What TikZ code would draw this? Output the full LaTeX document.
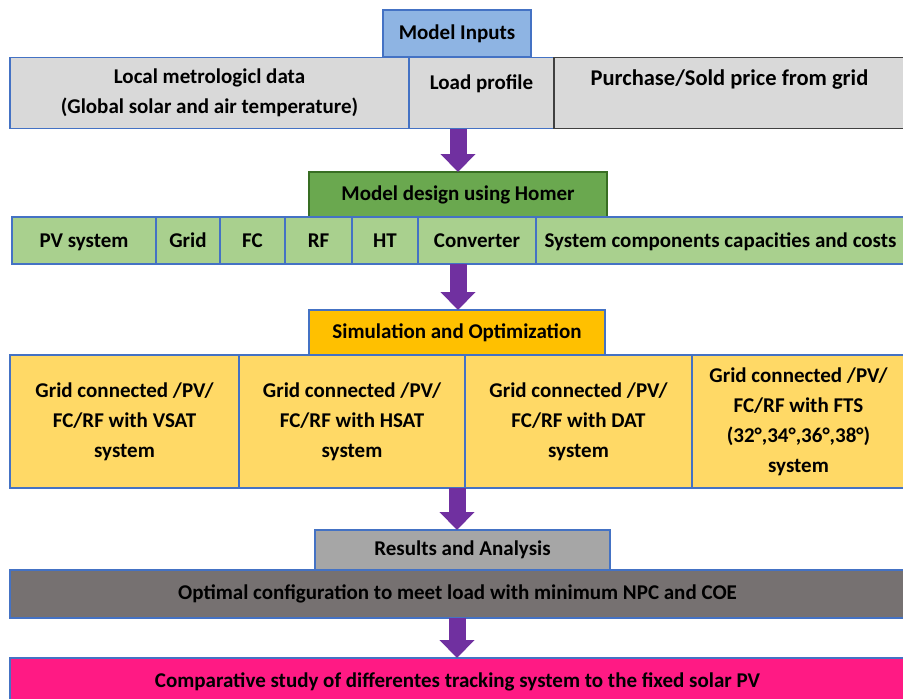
\documentclass[tikz,border=0pt]{standalone}
\usepackage{fontspec}
\setmainfont{Carlito}
\usepackage{tikz}
\usetikzlibrary{arrows.meta, positioning}
\definecolor{frameblue}{RGB}{68, 114, 196}
\definecolor{framedark}{RGB}{64, 64, 64}
\definecolor{inputblue}{RGB}{142, 180, 227}
\definecolor{inputgray}{RGB}{217, 217, 217}
\definecolor{homergreen}{RGB}{106, 168, 79}
\definecolor{homerdark}{RGB}{56, 110, 35}
\definecolor{partgreen}{RGB}{169, 208, 142}
\definecolor{simorange}{RGB}{255, 192, 0}
\definecolor{caseyellow}{RGB}{255, 217, 102}
\definecolor{resultgray}{RGB}{166, 166, 166}
\definecolor{optgray}{RGB}{118, 113, 113}
\definecolor{studypink}{RGB}{255, 26, 132}
\definecolor{flowpurple}{RGB}{112, 48, 160}
\tikzset{
  font=\bfseries\fontsize{21}{30}\selectfont,
  baseblock/.style={
    rectangle, draw=frameblue, line width=1.2pt,
    inner sep=0pt, outer sep=0pt, align=center, text=black
  },
  headblock/.style={baseblock, minimum height=45pt},
  inputblock/.style={baseblock, fill=inputgray, minimum height=71pt},
  partblock/.style={baseblock, fill=partgreen, minimum height=47pt,
    text height=17pt, text depth=3pt},
  caseblock/.style={baseblock, fill=caseyellow, minimum height=133pt},
  wideblock/.style={baseblock, minimum width=895pt, minimum height=48pt},
  flowline/.style={
    draw=flowpurple, line width=17pt, -{Triangle[width=34pt, length=18pt]}
  }
}

\begin{document}
\begin{tikzpicture}[x=1pt, y=-1pt]
  \useasboundingbox (0,0) rectangle (903,699);

  % Stage 1: Model inputs
  \node[headblock, fill=inputblue, minimum width=148pt, minimum height=47pt] (inputs) at (457,33.5) {Model Inputs};
  \node[inputblock, minimum width=399pt] (metro) at (209.5,93) {
    Local metrologicl data\\
    (Global solar and air temperature)
  };
  \node[inputblock, right=0pt of metro, minimum width=145pt] (load) {Load profile\\[-8pt]~};
  \node[inputblock, right=0pt of load, draw=framedark, minimum width=351pt,
    font=\bfseries\fontsize{22.5}{30}\selectfont] (price) {Purchase/Sold price from grid\\~};

  % Stage 2: Homer design
  \node[headblock, fill=homergreen, draw=homerdark, minimum width=298pt] (homer) at (458,194.5) {Model design using Homer};
  \node[partblock, minimum width=144pt] (pv) at (84,240.5) {PV system};
  \node[partblock, right=0pt of pv, minimum width=64pt] (grid) {Grid};
  \node[partblock, right=0pt of grid, minimum width=65pt] (fc) {FC};
  \node[partblock, right=0pt of fc, minimum width=67pt] (rf) {RF};
  \node[partblock, right=0pt of rf, minimum width=66pt] (ht) {HT};
  \node[partblock, right=0pt of ht, minimum width=118pt] (conv) {Converter};
  \node[partblock, right=0pt of conv, minimum width=369pt] (costs) {System components capacities and costs};

  % Stage 3: Simulation cases
  \node[headblock, fill=simorange, minimum width=296pt] (sim) at (457,332.5) {Simulation and Optimization};
  \node[caseblock, minimum width=229pt] (vsat) at (124.5,421.5) {
    Grid connected /PV/\\ FC/RF with VSAT\\ system
  };
  \node[caseblock, right=0pt of vsat, minimum width=226pt] (hsat) {
    Grid connected /PV/\\ FC/RF with HSAT\\ system
  };
  \node[caseblock, right=0pt of hsat, minimum width=227pt] (dat) {
    Grid connected /PV/\\ FC/RF with DAT\\ system
  };
  \node[caseblock, right=0pt of dat, minimum width=213pt] (fts) {
    Grid connected /PV/\\ FC/RF with FTS\\ (32°,34°,36°,38°)\\ system
  };

  % Stage 4: Results
  \node[headblock, fill=resultgray, minimum width=295pt, minimum height=40pt] (results) at (462.5,550) {Results and Analysis};
  \node[wideblock, fill=optgray] (optimal) at (457.5,594) {Optimal configuration to meet load with minimum NPC and COE};

  % Stage 5: Comparative study
  \node[wideblock, fill=studypink] (study) at (457.5,682) {Comparative study of differentes tracking system to the fixed solar PV};

  % Connecting flows
  \draw[flowline] (homer.north |- load.south) -- (homer.north);
  \draw[flowline] (homer.south |- conv.south) -- (homer.south |- sim.north);
  \draw[flowline] (sim.south |- hsat.south) -- (sim.south |- results.north);
  \draw[flowline] (sim.south |- optimal.south) -- (sim.south |- study.north);

\end{tikzpicture}
\end{document}
